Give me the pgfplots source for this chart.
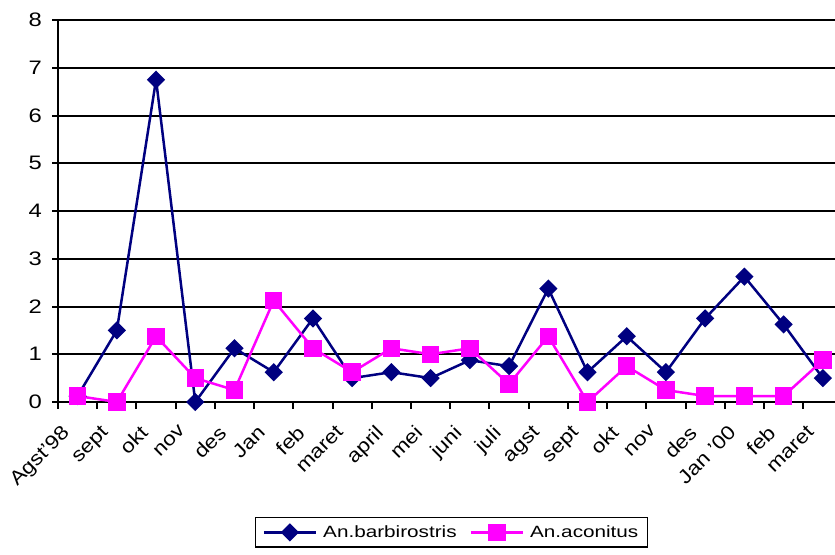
\documentclass[border=0pt]{standalone}
\usepackage{fontspec}
\setmainfont{Liberation Sans}
\usepackage{graphicx}
\usepackage{pgfplots}
\pgfplotsset{compat=1.18}
\definecolor{navyc}{RGB}{0,0,128}
\definecolor{magc}{RGB}{255,0,255}
\newcommand{\wide}[1]{\scalebox{1.27}[1]{#1}}
\begin{document}
\begin{tikzpicture}
\useasboundingbox (0,0) rectangle (835pt,554pt);
\begin{axis}[
  at={(58pt,152pt)}, anchor=south west,
  scale only axis, width=777pt, height=382pt,
  xmin=-0.5, xmax=19.31, ymin=0, ymax=8,
  clip=false,
  axis x line*=bottom, axis y line*=left,
  axis line style={line width=2.5pt, -},
  ytick={0,1,...,8},
  xtick={0,1,...,19},
  xticklabels={Agst'98,sept,okt,nov,des,Jan,feb,maret,april,mei,juni,juli,agst,sept,okt,nov,des,Jan '00,feb,maret},
  minor xtick={-0.5,0.5,...,18.5},
  major x tick style={draw=none},
  minor x tick style={black, line width=2pt},
  minor tick length=7pt,
  major tick length=6pt,
  tick align=outside,
  y tick style={black, line width=2pt},
  ymajorgrids,
  major grid style={black, line width=2pt},
  /pgf/number format/assume math mode=true,
  ticklabel style={font=\fontsize{19.5}{23}\selectfont},
  xticklabel style={xshift=-17pt, yshift=-16pt, rotate=45, xscale=1.15, anchor=north east, inner sep=0pt},
  yticklabel style={xshift=-10pt, xscale=1.22, anchor=east, inner sep=0pt},
  legend columns=2,
  legend style={at={(0.2535,-0.301)}, anchor=north west, draw=black, line width=1.5pt,
    font=\fontsize{16.3}{20}\selectfont, inner xsep=7pt, inner ysep=6pt,
    /tikz/every odd column/.append style={column sep=4pt},
    /tikz/every even column/.append style={column sep=11pt}},
  legend image code/.code={\draw[#1] (0pt,0pt) -- (52pt,0pt); \draw[#1] plot coordinates {(26pt,0pt)};},
]
\addplot[navyc, line width=2.5pt, mark=square*, mark size=5.2pt, mark options={rotate=45, solid}] coordinates {
(0,0.125) (1,1.5) (2,6.75) (3,0) (4,1.125) (5,0.625) (6,1.75) (7,0.5) (8,0.625) (9,0.5)
(10,0.875) (11,0.75) (12,2.375) (13,0.625) (14,1.375) (15,0.625) (16,1.75) (17,2.625) (18,1.625) (19,0.5)};
\addlegendentry{\wide{An.barbirostris}}
\addplot[magc, line width=2.5pt, mark=square*, mark size=7.5pt] coordinates {
(0,0.125) (1,0) (2,1.375) (3,0.5) (4,0.25) (5,2.125) (6,1.125) (7,0.625) (8,1.125) (9,1.0)
(10,1.125) (11,0.375) (12,1.375) (13,0) (14,0.75) (15,0.25) (16,0.125) (17,0.125) (18,0.125) (19,0.875)};
\addlegendentry{\wide{An.aconitus}}
\end{axis}
\end{tikzpicture}
\end{document}
